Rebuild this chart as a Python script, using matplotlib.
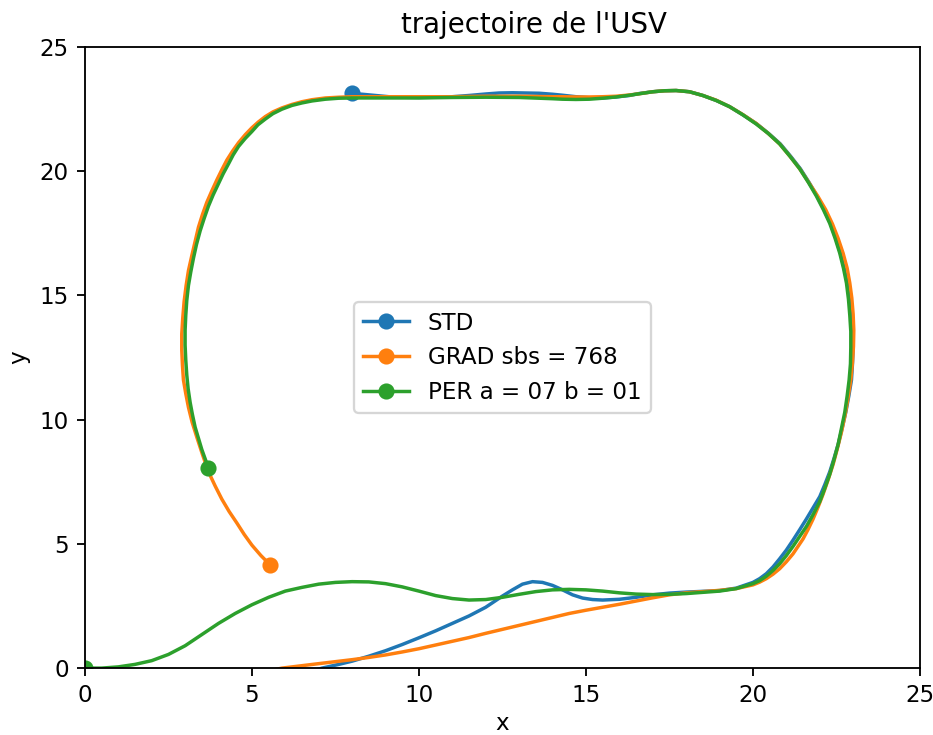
import matplotlib
matplotlib.use('Agg')
import matplotlib.pyplot as plt

# trajectoire STD
std_x = [6.0, 6.6, 7.1, 7.6, 8.0, 8.5, 9.0, 9.5, 10.0, 10.5, 11.0, 11.5, 12.0, 12.5, 12.8, 13.1, 13.4, 13.7,
         14.0, 14.3, 14.6, 14.9, 15.2, 15.5, 16.0, 16.5, 17.0, 17.5, 18.0, 18.5, 19.0, 19.5,
         20.0, 20.2, 20.4, 20.6, 20.8, 21.0, 21.2, 21.4, 21.6, 21.8, 22.0, 22.15, 22.3, 22.43, 22.55, 22.67,
         22.78, 22.87, 22.95, 22.98, 23.0, 22.98, 22.95, 22.9, 22.83, 22.73, 22.62, 22.48, 22.32, 22.13,
         21.92, 21.68, 21.42, 21.13, 20.82, 20.47, 20.1, 19.7, 19.3, 18.9, 18.5, 18.1, 17.7, 17.35, 17.0,
         16.6, 16.3, 15.9, 15.5, 15.1, 14.7, 14.3, 14.0, 13.6, 13.2, 12.8, 12.4, 12.0, 11.5, 11.0, 10.5,
         10.0, 9.5, 9.1, 8.7, 8.3, 8.0]
std_y = [-0.4, -0.2, 0.0, 0.15, 0.28, 0.48, 0.7, 0.95, 1.22, 1.5, 1.8, 2.1, 2.45, 2.9, 3.15, 3.38, 3.48, 3.45,
         3.33, 3.15, 2.95, 2.82, 2.76, 2.74, 2.77, 2.85, 2.95, 3.02, 3.06, 3.09, 3.12, 3.22,
         3.45, 3.6, 3.8, 4.07, 4.4, 4.75, 5.15, 5.57, 6.0, 6.45, 6.9, 7.38, 7.9, 8.45, 9.0, 9.65,
         10.3, 10.95, 11.6, 12.25, 12.9, 13.55, 14.2, 14.85, 15.5, 16.1, 16.7, 17.3, 17.9, 18.45,
         19.0, 19.55, 20.1, 20.6, 21.1, 21.52, 21.92, 22.27, 22.6, 22.85, 23.05, 23.2, 23.25, 23.24, 23.2,
         23.13, 23.05, 22.99, 22.95, 22.96, 23.0, 23.06, 23.1, 23.14, 23.15, 23.16, 23.15, 23.11, 23.05, 23.0, 22.98,
         22.97, 22.98, 23.0, 23.05, 23.1, 23.13]

# trajectoire GRAD
grad_x = [4.5, 5.2, 5.9, 6.5, 7.0, 7.5, 8.0, 8.5, 9.0, 9.5, 10.0, 10.5, 11.0, 11.5, 12.0, 12.5, 13.0, 13.5,
          14.0, 14.5, 15.0, 15.5, 16.0, 16.5, 17.0, 17.5, 18.0, 18.5, 19.0, 19.5,
          20.0, 20.2, 20.4, 20.6, 20.8, 21.0, 21.2, 21.35, 21.5, 21.65, 21.8, 21.95, 22.1, 22.25, 22.4, 22.53,
          22.65, 22.76, 22.85, 22.93, 22.98, 23.01, 23.02, 23.0, 22.96, 22.9, 22.82, 22.7, 22.55, 22.38,
          22.18, 21.94, 21.67, 21.4, 21.11, 20.8, 20.46, 20.1, 19.7, 19.3, 18.9, 18.5, 18.1, 17.7, 17.35,
          17.0, 16.6, 16.3, 15.9, 15.5, 15.1, 14.7, 14.3, 14.0, 13.0, 12.0, 11.0, 10.0, 9.0, 8.0, 7.6, 7.2,
          6.8, 6.5, 6.2, 5.9, 5.63, 5.4, 5.19, 5.0, 4.8, 4.6, 4.42, 4.25, 4.1, 3.95, 3.8, 3.65, 3.52, 3.4,
          3.3, 3.2, 3.1, 3.03, 2.97, 2.93, 2.9, 2.9, 2.92, 2.95, 3.02, 3.1, 3.21, 3.35, 3.52, 3.7, 3.9,
          4.1, 4.32, 4.55, 4.77, 5.0, 5.27, 5.55]
grad_y = [-0.5, -0.2, 0.0, 0.1, 0.18, 0.26, 0.34, 0.43, 0.53, 0.65, 0.78, 0.93, 1.08, 1.23, 1.4, 1.56, 1.72,
          1.88, 2.04, 2.2, 2.33, 2.45, 2.57, 2.7, 2.83, 2.95, 3.03, 3.08, 3.13, 3.2,
          3.35, 3.46, 3.6, 3.78, 4.0, 4.28, 4.6, 4.9, 5.2, 5.58, 6.0, 6.48, 7.0, 7.58, 8.2, 8.85,
          9.5, 10.2, 10.9, 11.6, 12.3, 12.95, 13.6, 14.25, 14.9, 15.5, 16.1, 16.7, 17.3, 17.88,
          18.45, 19.0, 19.55, 20.1, 20.6, 21.1, 21.52, 21.92, 22.28, 22.6, 22.86, 23.05, 23.2, 23.25, 23.24,
          23.2, 23.12, 23.07, 23.02, 23.0, 22.99, 22.99, 23.0, 23.0, 23.02, 23.02, 23.0, 23.0, 23.0, 23.0, 22.98,
          22.95, 22.88, 22.8, 22.69, 22.55, 22.39, 22.2, 21.98, 21.75, 21.47, 21.15, 20.81, 20.45, 20.06,
          19.65, 19.21, 18.75, 18.26, 17.75, 17.18, 16.6, 16.0, 15.4, 14.75, 14.1, 13.45, 12.8, 12.2, 11.6,
          11.05, 10.5, 9.9, 9.3, 8.6, 7.9, 7.33, 6.8, 6.3, 5.84, 5.38, 4.95, 4.53, 4.15]

# trajectoire PER
per_x = [0.0, 0.5, 1.0, 1.5, 2.0, 2.5, 3.0, 3.5, 4.0, 4.5, 5.0, 5.5, 6.0, 6.5, 7.0, 7.5, 8.0, 8.5, 9.0, 9.5,
         10.0, 10.5, 11.0, 11.5, 12.0, 12.5, 13.0, 13.5, 14.0, 14.5, 15.0, 15.5, 16.0, 16.5, 17.0, 17.5,
         18.0, 18.5, 19.0, 19.5, 20.0, 20.2, 20.4, 20.6, 20.8, 21.0, 21.2, 21.4, 21.6, 21.8, 22.0, 22.15,
         22.3, 22.43, 22.55, 22.65, 22.75, 22.82, 22.88, 22.92, 22.93, 22.93, 22.9, 22.86, 22.8, 22.71, 22.6,
         22.46, 22.3, 22.11, 21.9, 21.66, 21.4, 21.11, 20.8, 20.46, 20.1, 19.7, 19.3, 18.9, 18.5, 18.1, 17.7,
         17.35, 17.0, 16.6, 16.3, 15.9, 15.5, 15.1, 14.7, 14.3, 14.0, 13.0, 12.0, 11.0, 10.0, 9.0, 8.0, 7.6,
         7.2, 6.8, 6.5, 6.2, 5.9, 5.63, 5.4, 5.18, 5.0, 4.8, 4.6, 4.44, 4.3, 4.14, 4.0, 3.84, 3.7, 3.57,
         3.45, 3.34, 3.25, 3.17, 3.1, 3.05, 3.02, 3.0, 3.0, 3.02, 3.05, 3.09, 3.15, 3.22, 3.3, 3.4, 3.5,
         3.6, 3.7]
per_y = [0.0, 0.0, 0.05, 0.15, 0.3, 0.55, 0.9, 1.35, 1.8, 2.2, 2.55, 2.85, 3.1, 3.25, 3.38, 3.45, 3.48, 3.47,
         3.4, 3.27, 3.1, 2.92, 2.8, 2.74, 2.76, 2.85, 2.97, 3.08, 3.15, 3.17, 3.15, 3.1, 3.03, 2.98, 2.96,
         2.97, 3.0, 3.05, 3.1, 3.2, 3.4, 3.52, 3.7, 3.93, 4.2, 4.53, 4.9, 5.3, 5.7, 6.18, 6.7, 7.23,
         7.8, 8.4, 9.0, 9.65, 10.3, 10.95, 11.6, 12.25, 12.9, 13.55, 14.2, 14.85, 15.5, 16.1, 16.7,
         17.3, 17.9, 18.45, 19.0, 19.55, 20.1, 20.6, 21.1, 21.52, 21.9, 22.27, 22.6, 22.85, 23.05, 23.2, 23.25,
         23.24, 23.2, 23.12, 23.06, 22.99, 22.94, 22.9, 22.89, 22.9, 22.92, 22.97, 22.98, 22.97, 22.95, 22.95,
         22.95, 22.94, 22.9, 22.83, 22.75, 22.65, 22.5, 22.32, 22.1, 21.87, 21.6, 21.32, 21.0, 20.66, 20.3,
         19.9, 19.5, 19.05, 18.6, 18.1, 17.6, 17.05, 16.5, 15.95, 15.4, 14.8, 14.2, 13.6, 13.0, 12.4, 11.8,
         11.25, 10.7, 10.2, 9.7, 9.25, 8.8, 8.42, 8.05]

DPI = 166
fig = plt.figure(figsize=(933 / DPI, 735 / DPI), dpi=DPI)
ax = fig.add_axes([0.091, 0.091, 0.895, 0.845])

# point de depart et d'arrivee marques
ax.plot(std_x, std_y, marker='o', markevery=[0, -1], label='STD')
ax.plot(grad_x, grad_y, marker='o', markevery=[0, -1], label='GRAD sbs = 768')
ax.plot(per_x, per_y, marker='o', markevery=[0, -1], label='PER a = 07 b = 01')

ax.set_xlim(0, 25)
ax.set_ylim(0, 25)
ax.set_xlabel('x', labelpad=2)
ax.set_ylabel('y')
ax.set_title("trajectoire de l'USV", x=0.538)
ax.legend(loc='center')

fig.savefig('out.png', dpi=DPI)
